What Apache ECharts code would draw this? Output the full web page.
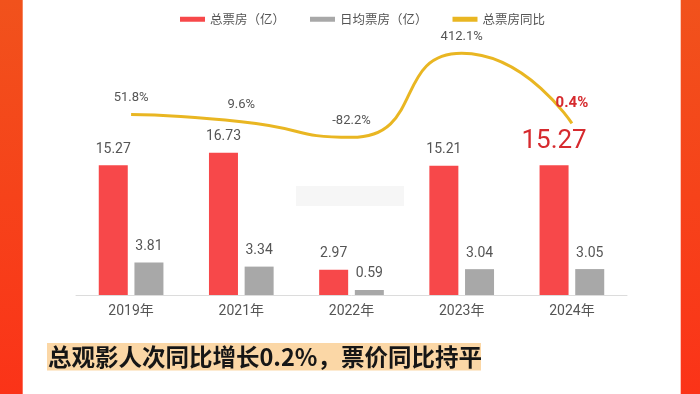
<!DOCTYPE html>
<html>
<head>
<meta charset="utf-8">
<script src="https://cdn.jsdelivr.net/npm/echarts@6/dist/echarts.min.js"></script>
<style>
html,body{margin:0;padding:0;background:#fff;}
#chart{width:700px;height:394px;}
</style>
</head>
<body>
<div id="chart"></div>
<script>
var categories = ['2019年', '2021年', '2022年', '2023年', '2024年'];
var totalBox = [15.27, 16.73, 2.97, 15.21, 15.27];
var dailyBox = [3.81, 3.34, 0.59, 3.04, 3.05];
var yoyGrowth = [51.8, 9.6, -82.2, 412.1, 0.4];
var seriesNames = ['总票房（亿）', '日均票房（亿）', '总票房同比'];
var headline = '总观影人次同比增长0.2%，票价同比持平';

var FONT = 'Roboto, "Noto Sans CJK SC", sans-serif';
var RED = '#f7484a';
var GREY = '#a8a8a8';
var YELLOW = '#e9b622';
var last = categories.length - 1;

var chart = echarts.init(document.getElementById('chart'), null, {renderer: 'canvas'});

var totalData = totalBox.map(function (v, i) {
  if (i === last) {
    return {value: v, label: {fontSize: 26, color: '#d62a2e', distance: 11}};
  }
  return v;
});
var yoyData = yoyGrowth.map(function (v, i) {
  if (i === last) {
    return {value: v, label: {fontSize: 15, fontWeight: 'bold', color: '#d62a2e', distance: 13}};
  }
  return v;
});

var borderGrad = new echarts.graphic.LinearGradient(0, 0, 0, 1, [
  {offset: 0, color: '#f1521c'},
  {offset: 1, color: '#fb3318'}
]);

chart.setOption({
  backgroundColor: '#ffffff',
  animation: false,
  textStyle: {fontFamily: FONT},
  legend: {
    left: 175,
    top: 8,
    itemWidth: 25,
    itemHeight: 5,
    itemGap: 25,
    textStyle: {fontSize: 12.5, color: '#555', fontFamily: '"Noto Sans CJK SC", sans-serif'},
    data: [
      {name: seriesNames[0], icon: 'rect'},
      {name: seriesNames[1], icon: 'rect'},
      {name: seriesNames[2], icon: 'rect'}
    ]
  },
  grid: [
    {left: 76, right: 73, top: 125, bottom: 99},
    {left: 76, right: 73, top: 38.4, bottom: 236.6}
  ],
  xAxis: [
    {
      type: 'category', gridIndex: 0, data: categories,
      axisTick: {show: false},
      axisLine: {lineStyle: {color: '#dcdcdc', width: 1}},
      axisLabel: {fontSize: 14, color: '#555', margin: 10, fontFamily: FONT}
    },
    {
      type: 'category', gridIndex: 1, data: categories, show: false
    }
  ],
  yAxis: [
    {type: 'value', gridIndex: 0, min: 0, max: 20, show: false, splitLine: {show: false}},
    {type: 'value', gridIndex: 1, min: -200, max: 500, show: false, splitLine: {show: false}}
  ],
  series: [
    {
      name: seriesNames[0], type: 'bar', xAxisIndex: 0, yAxisIndex: 0,
      data: totalData, barWidth: 29, barGap: '23%',
      itemStyle: {color: RED},
      label: {show: true, position: 'top', distance: 9, fontSize: 14, color: '#555', fontFamily: FONT}
    },
    {
      name: seriesNames[1], type: 'bar', xAxisIndex: 0, yAxisIndex: 0,
      data: dailyBox, barWidth: 29, barGap: '23%',
      itemStyle: {color: GREY},
      label: {show: true, position: 'top', distance: 9, fontSize: 14, color: '#555', fontFamily: FONT}
    },
    {
      name: seriesNames[2], type: 'line', xAxisIndex: 1, yAxisIndex: 1,
      data: yoyData, smooth: 0.6, symbol: 'circle', symbolSize: 0.1,
      itemStyle: {color: YELLOW},
      lineStyle: {color: YELLOW, width: 3},
      label: {
        show: true, position: 'top', distance: 10.5, fontSize: 13, color: '#555',
        fontFamily: FONT,
        formatter: function (p) { return p.value + '%'; }
      }
    }
  ],
  graphic: [
    {type: 'rect', shape: {x: 0, y: 0, width: 22.7, height: 394}, style: {fill: borderGrad}, silent: true},
    {type: 'rect', shape: {x: 680.7, y: 0, width: 19.3, height: 394}, style: {fill: borderGrad}, silent: true},
    {type: 'rect', shape: {x: 296, y: 186, width: 108, height: 20}, style: {fill: 'rgba(0,0,0,0.035)', shadowBlur: 10, shadowColor: 'rgba(0,0,0,0.05)'}, silent: true},
    {type: 'rect', shape: {x: 47, y: 343, width: 434, height: 27.5}, style: {fill: '#fbd7a6'}, silent: true},
    {
      type: 'text', x: 48, y: 357, silent: true,
      style: {
        text: headline,
        fill: '#161616',
        font: 'bold 23.5px "Noto Sans CJK SC", sans-serif',
        align: 'left',
        verticalAlign: 'middle'
      }
    }
  ]
});
</script>
</body>
</html>
